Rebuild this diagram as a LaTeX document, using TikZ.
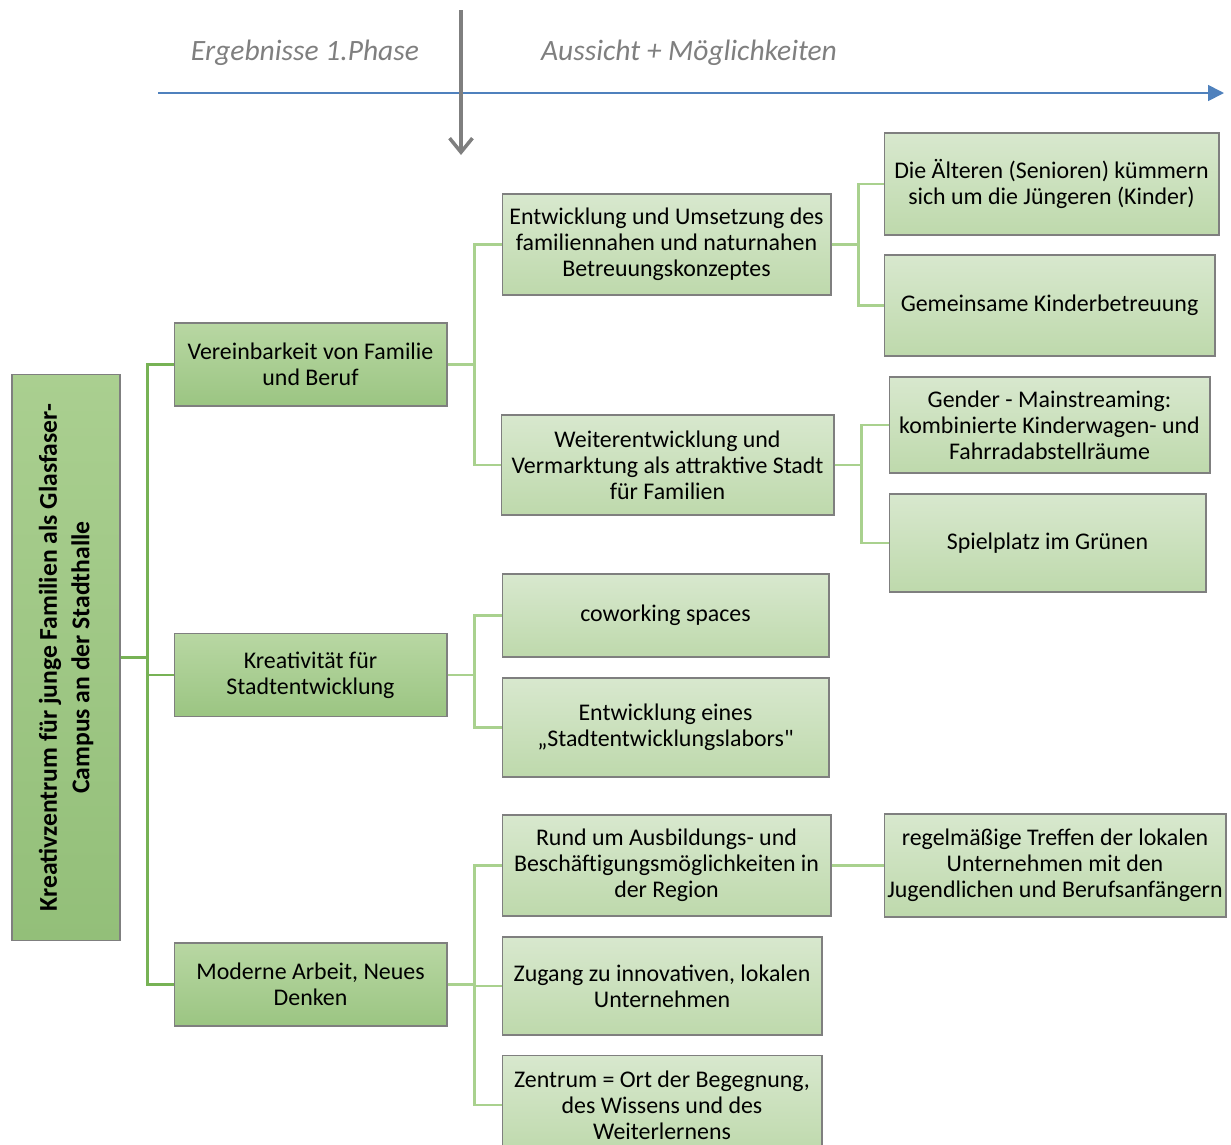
\documentclass[tikz,border=0pt]{standalone}
\usepackage{fontspec}
\setmainfont{Carlito}
\usetikzlibrary{arrows.meta}
\definecolor{rand}{HTML}{7F7F7F}
\definecolor{astA}{HTML}{77B255}
\definecolor{astB}{HTML}{A9D18E}
\definecolor{blau}{HTML}{4F81BD}
\tikzset{
  box/.style={draw=rand, line width=0.6pt, align=center, inner sep=2pt,
    font=\fontsize{13.6}{14.8}\selectfont},
  hauptbox/.style={box, top color={rgb,255:red,184;green,215;blue,163},
    bottom color={rgb,255:red,155;green,197;blue,130}},
  unterbox/.style={box, top color={rgb,255:red,216;green,232;blue,206},
    bottom color={rgb,255:red,190;green,217;blue,172}},
  ast/.style={draw=astA, line width=1.4pt},
  zweig/.style={draw=astB, line width=1.4pt},
  phase/.style={font=\fontsize{16.8}{20}\selectfont\itshape, text=rand}
}
\begin{document}
\begin{tikzpicture}[x=0.02cm, y=-0.02cm]
        \useasboundingbox (0,0) rectangle (1231,1144);
        % Zeitachse
        \coordinate (achseL) at (158,93);
        \coordinate (achseR) at (1224,93);
        \coordinate (pfeilO) at (461,10);
        \coordinate (pfeilU) at (461,155);
        \draw[blau, line width=1pt, -{Triangle[length=9pt,width=9pt]}] (achseL) -- (achseR);
        \draw[rand, line width=2pt, -{Straight Barb[length=8pt,width=13pt]}] (pfeilO) -- (pfeilU);
        \node[phase] (phase1) at (305,53) {Ergebnisse 1.Phase};
        \node[phase] (phase2) at (689,53) {Aussicht + Möglichkeiten};
        % Wurzel
        \node[hauptbox, rotate=90, minimum width=11.34cm, minimum height=2.16cm,
          top color={rgb,255:red,170;green,207;blue,144}, bottom color={rgb,255:red,147;green,191;blue,121},
          font=\fontsize{14.6}{18.5}\selectfont\bfseries] (wurzel) at (66,657.5)
          {Kreativzentrum für junge Familien als Glasfaser-\\Campus an der Stadthalle};
        % Ebene 1
        \node[hauptbox, minimum width=5.46cm, minimum height=1.66cm] (familie) at (310.5,364.5) {Vereinbarkeit von Familie\\und Beruf};
        \node[hauptbox, minimum width=5.46cm, minimum height=1.66cm] (kreativ) at (310.5,675) {Kreativität für\\Stadtentwicklung};
        \node[hauptbox, minimum width=5.46cm, minimum height=1.66cm] (arbeit) at (310.5,984.5) {Moderne Arbeit, Neues\\Denken};
        % Ebene 2
        \node[unterbox, minimum width=6.58cm, minimum height=2.02cm] (betreuung) at (666.5,244.5) {Entwicklung und Umsetzung des\\familiennahen und naturnahen\\Betreuungskonzeptes};
        \node[unterbox, minimum width=6.66cm, minimum height=2cm] (stadt) at (667.5,465) {Weiterentwicklung und\\Vermarktung als attraktive Stadt\\für Familien};
        \node[unterbox, minimum width=6.54cm, minimum height=1.66cm] (cowork) at (665.5,615.5) {coworking spaces};
        \node[unterbox, minimum width=6.54cm, minimum height=1.98cm] (labor) at (665.5,727.5) {Entwicklung eines\\„Stadtentwicklungslabors\textquotedbl};
        \node[unterbox, minimum width=6.58cm, minimum height=2.02cm] (region) at (666.5,865.5) {Rund um Ausbildungs- und\\Beschäftigungsmöglichkeiten in\\der Region};
        \node[unterbox, minimum width=6.4cm, minimum height=1.96cm] (zugang) at (662,986) {Zugang zu innovativen, lokalen\\Unternehmen};
        \node[unterbox, minimum width=6.4cm, minimum height=2cm] (zentrum) at (662,1105) {Zentrum = Ort der Begegnung,\\des Wissens und des\\Weiterlernens};
        % Ebene 3
        \node[unterbox, minimum width=6.7cm, minimum height=2.04cm] (senioren) at (1051.5,184) {Die Älteren (Senioren) kümmern\\sich um die Jüngeren (Kinder)};
        \node[unterbox, minimum width=6.62cm, minimum height=2.02cm] (kinder) at (1049.5,305.5) {Gemeinsame Kinderbetreuung};
        \node[unterbox, minimum width=6.42cm, minimum height=1.92cm] (gender) at (1049.5,425) {Gender - Mainstreaming:\\kombinierte Kinderwagen- und\\Fahrradabstellräume};
        \node[unterbox, minimum width=6.34cm, minimum height=1.96cm] (spielplatz) at (1047.5,543) {Spielplatz im Grünen};
        \node[unterbox, minimum width=6.84cm, minimum height=2.06cm, inner sep=0pt] (treffen) at (1055,865.5) {regelmäßige Treffen der lokalen\\Unternehmen mit den\\Jugendlichen und Berufsanfängern};
        % Verbindungen
        \foreach \ziel in {familie,kreativ,arbeit}
          \draw[ast] (wurzel.south) -- ++(27,0) |- (\ziel.west);
        \foreach \ziel in {betreuung,stadt}
          \draw[zweig] (familie.east) -- ++(27,0) |- (\ziel.west);
        \foreach \ziel in {cowork,labor}
          \draw[zweig] (kreativ.east) -- ++(27,0) |- (\ziel.west);
        \foreach \ziel in {region,zugang,zentrum}
          \draw[zweig] (arbeit.east) -- ++(27,0) |- (\ziel.west);
        \foreach \ziel in {senioren,kinder}
          \draw[zweig] (betreuung.east) -- ++(27,0) |- (\ziel.west);
        \foreach \ziel in {gender,spielplatz}
          \draw[zweig] (stadt.east) -- ++(27,0) |- (\ziel.west);
        \draw[zweig] (region.east) -- (treffen.west);
    \end{tikzpicture}
\end{document}
